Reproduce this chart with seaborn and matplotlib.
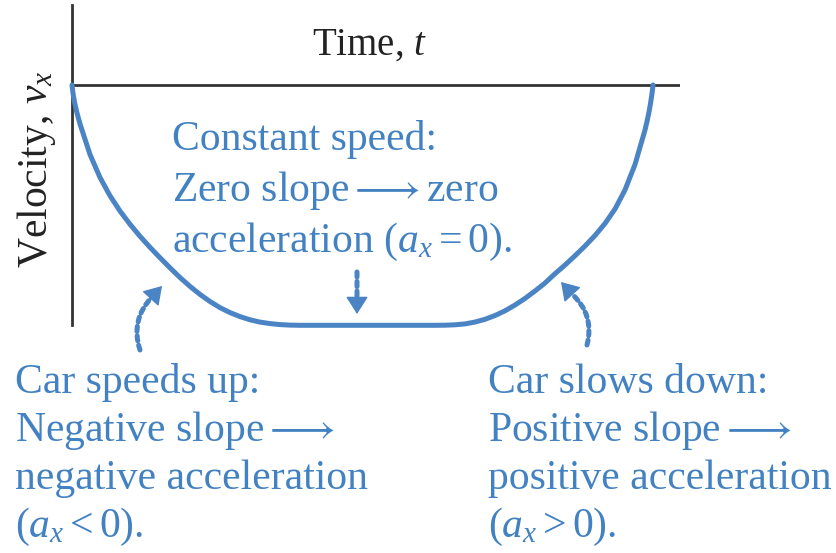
import numpy as np
import matplotlib
matplotlib.use("Agg")
import matplotlib.pyplot as plt
from matplotlib.patches import FancyArrowPatch
import seaborn as sns

# velocity vs time curve (time 0..10, velocity 0 at the time axis)
time = [0.000, 0.016, 0.041, 0.074, 0.107, 0.132, 0.296, 0.461, 0.625, 0.789, 0.954,
        1.118, 1.283, 1.447, 1.612, 1.776, 1.941, 2.105, 2.270, 2.434, 2.599, 2.763,
        2.928, 3.092, 3.257, 3.421, 3.586, 3.750,
        5.970, 6.135, 6.299, 6.464, 6.628, 6.793, 6.957, 7.122, 7.286, 7.451, 7.615,
        7.780, 7.944, 8.109, 8.273, 8.438, 8.602, 8.766, 8.931, 9.095, 9.260, 9.424,
        9.457, 9.490, 9.515, 9.536, 9.549, 9.556]
velocity = [0.000, -0.333, -0.707, -1.082, -1.394, -1.623, -2.892, -3.849, -4.609, -5.243, -5.795,
            -6.294, -6.756, -7.187, -7.607, -8.011, -8.381, -8.714, -9.010, -9.264, -9.471, -9.638,
            -9.771, -9.867, -9.929, -9.971, -9.992, -10.000,
            -10.000, -9.996, -9.979, -9.942, -9.865, -9.750, -9.594, -9.397, -9.157, -8.881, -8.573,
            -8.240, -7.853, -7.491, -7.106, -6.700, -6.263, -5.764, -5.160, -4.370, -3.308, -1.873,
            -1.519, -1.124, -0.770, -0.416, -0.166, 0.000]

middle_lines = ["Constant speed:", "Zero slope$\\longrightarrow$zero", "acceleration ($a_x = 0$)."]
left_lines = ["Car speeds up:", "Negative slope$\\longrightarrow$", "negative acceleration", "($a_x < 0$)."]
right_lines = ["Car slows down:", "Positive slope$\\longrightarrow$", "positive acceleration", "($a_x > 0$)."]

blue = "#4a84c4"
text_blue = "#4281c2"
dark = "#333333"

sns.set_theme(style="white")
plt.rcParams["font.family"] = ["Liberation Serif", "DejaVu Serif"]
plt.rcParams["mathtext.fontset"] = "custom"
plt.rcParams["mathtext.rm"] = "Liberation Serif"
plt.rcParams["mathtext.it"] = "Liberation Serif:italic"

W, H = 837, 553
fig = plt.figure(figsize=(W / 100, H / 100), dpi=100)


def px(x, y):
    return (x / W, 1 - y / H)


# axes box: left edge at x=72, time axis to x=680, top y=5, bottom at the flat part of the curve
ax = fig.add_axes([72 / W, 1 - 325.3 / H, (680 - 72) / W, (325.3 - 5) / H])
sns.lineplot(x=time, y=velocity, sort=False, estimator=None, color=blue,
             linewidth=3.6, ax=ax, clip_on=False, zorder=3)
ax.lines[0].set_solid_joinstyle("round")
ax.axhline(0, color=dark, linewidth=2, zorder=2)
ax.set_xlim(0, 10)
ax.set_ylim(-10, 3.33)
for s in ["top", "right", "bottom"]:
    ax.spines[s].set_visible(False)
ax.spines["left"].set_color(dark)
ax.spines["left"].set_linewidth(2)
ax.set_xticks([])
ax.set_yticks([])
ax.patch.set_alpha(0)

fs = 30
fig.text(*px(370, 45), "Time, $t$", fontsize=28, color="#222222", ha="center", va="center")
fig.text(*px(37, 169), "Velocity, $v_x$", fontsize=fs, color="#222222", ha="center",
         va="center", rotation=90)

for i, line in enumerate(middle_lines):
    fig.text(*px(172, 150 + 51 * i), line, fontsize=fs, color=text_blue, ha="left", va="baseline")
for i, line in enumerate(left_lines):
    fig.text(*px(15, 393 + 48 * i), line, fontsize=fs, color=text_blue, ha="left", va="baseline")
for i, line in enumerate(right_lines):
    fig.text(*px(488, 393 + 48 * i), line, fontsize=fs, color=text_blue, ha="left", va="baseline")


def dotted_arrow(tail, neck, tip, rad):
    body = FancyArrowPatch(px(*tail), px(*neck), arrowstyle="-", color=blue, linewidth=3.6,
                           linestyle=(0, (1.0, 0.9)), connectionstyle=f"arc3,rad={rad}",
                           shrinkA=0, shrinkB=0, transform=fig.transFigure)
    head = FancyArrowPatch(px(*neck), px(*tip), arrowstyle="-|>,head_length=0.55,head_width=0.35",
                           mutation_scale=20, color=blue, linewidth=1,
                           shrinkA=0, shrinkB=0, transform=fig.transFigure)
    fig.add_artist(body)
    fig.add_artist(head)


dotted_arrow((357, 272), (357, 300), (357, 314), 0)
dotted_arrow((140, 350), (152, 297), (162, 286), -0.3)
dotted_arrow((587, 345), (572, 294), (561, 282), 0.3)

fig.savefig("out.png", dpi=100, facecolor="white")
